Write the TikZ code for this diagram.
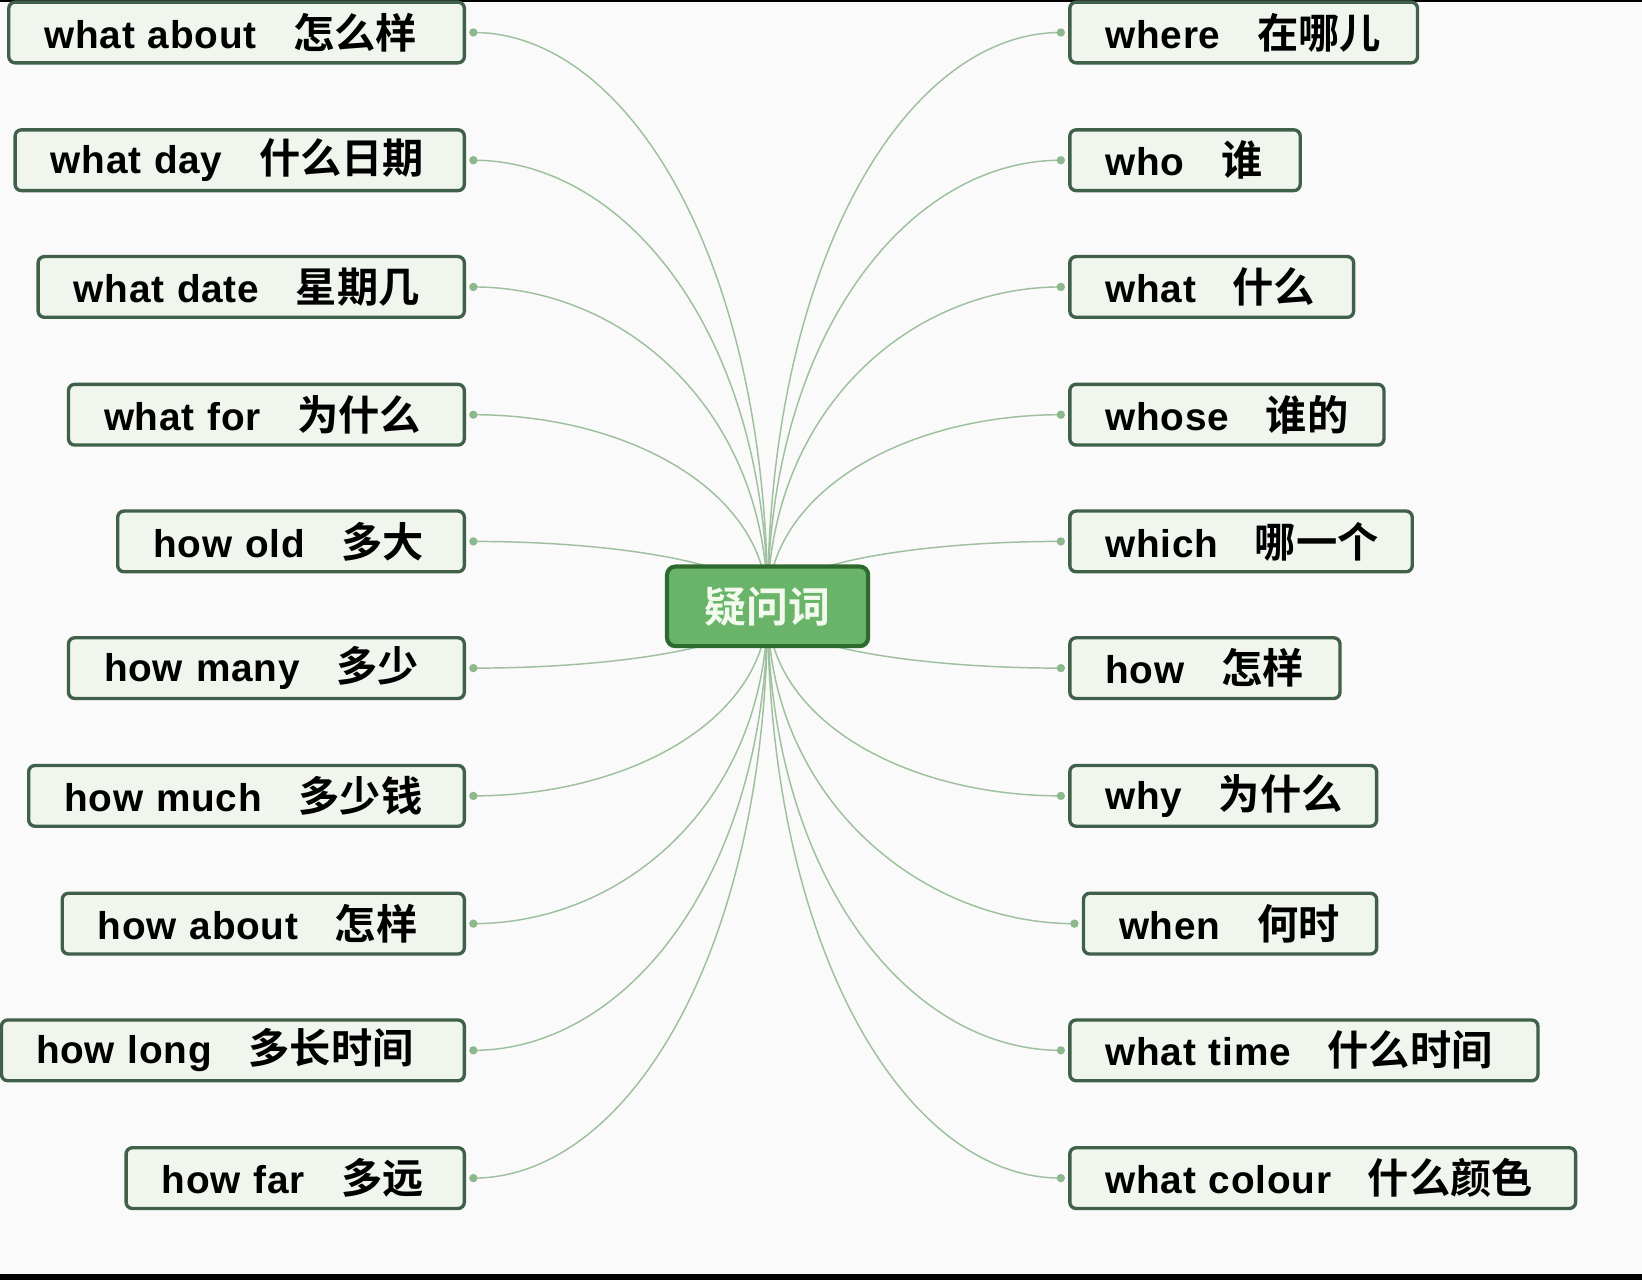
\documentclass[tikz,border=0pt]{standalone}
\usepackage{fontspec}
\setmainfont{Liberation Sans}[UprightFont=* Bold, LetterSpace=2]
\newfontfamily\cjk{Noto Sans CJK SC}[UprightFont=* Bold]
\newcommand\qpair[2]{\mbox{#1\hspace{17.5pt}{\cjk\fontsize{19.7}{22}\selectfont #2}}}
\definecolor{bgc}{HTML}{FAFAFA}
\definecolor{boxfill}{HTML}{F0F6EE}
\definecolor{boxdraw}{HTML}{40604A}
\definecolor{connc}{HTML}{9EC09E}
\definecolor{dotc}{HTML}{8DB88D}
\definecolor{cfill}{HTML}{6AB46A}
\definecolor{cdraw}{HTML}{2E6A30}
\definecolor{ctext}{HTML}{F2FAEE}
\pgfdeclarelayer{bg}
\pgfdeclarelayer{lines}
\pgfsetlayers{bg,lines,main}
\begin{document}
\begin{tikzpicture}[x=0.5pt,y=-0.5pt,
  box/.style={draw=boxdraw, fill=boxfill, line width=1.6pt, rounded corners=3pt,
    minimum height=29pt, inner ysep=0pt, inner xsep=17pt, align=left,
    font=\fontsize{18.5}{22}\selectfont},
  lbox/.style={box, anchor=east},
  rbox/.style={box, anchor=west},
  center/.style={draw=cdraw, fill=cfill, line width=2pt, rounded corners=4pt,
    minimum width=96pt, minimum height=38pt, text=ctext,
    font=\cjk\fontsize{20}{22}\selectfont},
  conn/.style={draw=connc, line width=0.7pt},
  dot/.style={fill=dotc}]
\useasboundingbox (0,0) rectangle (1568,1222);
\begin{pgfonlayer}{bg}
\fill[bgc] (0,0) rectangle (1568,1222);
\fill[black] (0,0) rectangle (1568,2);
\fill[black] (0,1217) rectangle (1568,1222);
\end{pgfonlayer}

\node[center] (c) at (733,579) {疑问词};

% left column
\node[lbox, text width=183.5pt] (L1) at (445,31) {\qpair{what about}{怎么样}};
\node[lbox, text width=180.5pt] (L2) at (445,153) {\qpair{what day}{什么日期}};
\node[lbox, text width=169.5pt] (L3) at (445,274) {\qpair{what date}{星期几}};
\node[lbox, text width=155pt] (L4) at (445,396) {\qpair{what for}{为什么}};
\node[lbox, text width=131.5pt] (L5) at (445,517) {\qpair{how old}{多大}};
\node[lbox, text width=155pt] (L6) at (445,638) {\qpair{how many}{多少}};
\node[lbox, text width=174pt] (L7) at (445,760) {\qpair{how much}{多少钱}};
\node[lbox, text width=158pt] (L8) at (445,882) {\qpair{how about}{怎样}};
\node[lbox, text width=188pt, inner xsep=16.5pt] (L9) at (445,1003) {\qpair{how long}{多长时间}};
\node[lbox, text width=127.5pt] (L10) at (445,1125) {\qpair{how far}{多远}};

% right column
\node[rbox, text width=132pt] (R1) at (1020,31) {\qpair{where}{在哪儿}};
\node[rbox, text width=76pt] (R2) at (1020,153) {\qpair{who}{谁}};
\node[rbox, text width=101.5pt] (R3) at (1020,274) {\qpair{what}{什么}};
\node[rbox, text width=116pt] (R4) at (1020,396) {\qpair{whose}{谁的}};
\node[rbox, text width=129.5pt] (R5) at (1020,517) {\qpair{which}{哪一个}};
\node[rbox, text width=95pt] (R6) at (1020,638) {\qpair{how}{怎样}};
\node[rbox, text width=112.5pt] (R7) at (1020,760) {\qpair{why}{为什么}};
\node[rbox, text width=106pt] (R8) at (1033,882) {\qpair{when}{何时}};
\node[rbox, text width=189.5pt] (R9) at (1020,1003) {\qpair{what time}{什么时间}};
\node[rbox, text width=207.5pt] (R10) at (1020,1125) {\qpair{what colour}{什么颜色}};

% dot coordinates
\foreach \i in {1,...,10}{
  \coordinate (Ld\i) at ([xshift=3.5pt]L\i.east);
  \coordinate (Rd\i) at ([xshift=-3.5pt]R\i.west);
}

\begin{pgfonlayer}{lines}
\foreach \i/\dy in {1/-548,2/-426,3/-305,4/-183,5/-62,6/59,7/181,8/303,9/424,10/546}{
  \pgfmathsetmacro\cy{0.6*\dy}
  \draw[conn] (c.center) .. controls +(0,\cy) and +(148,0) .. (Ld\i);
  \draw[conn] (c.center) .. controls +(0,\cy) and +(-148,0) .. (Rd\i);
  \fill[dot] (Ld\i) circle (2pt);
  \fill[dot] (Rd\i) circle (2pt);
}
\end{pgfonlayer}
\end{tikzpicture}
\end{document}
